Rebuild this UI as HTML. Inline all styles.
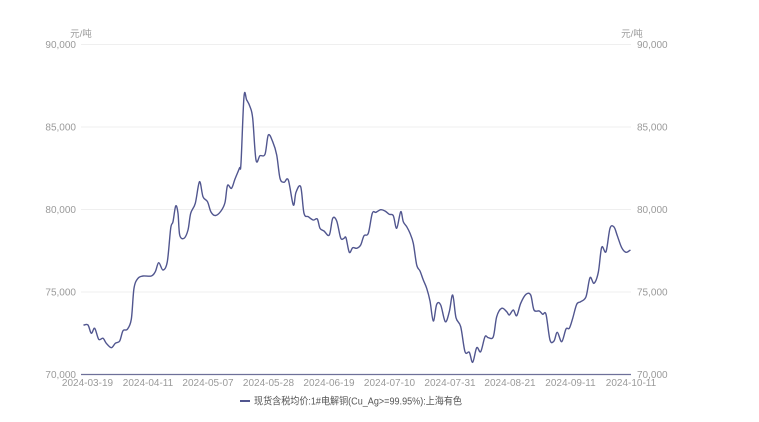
<!DOCTYPE html>
<html><head><meta charset="utf-8"><style>
html,body{margin:0;padding:0;background:#fff;}
svg{display:block;}
text{font-family:"Liberation Sans","Noto Sans CJK SC",sans-serif;}
</style></head><body>
<svg id="chart" width="759" height="422" viewBox="0 0 759 422" xmlns="http://www.w3.org/2000/svg">
<rect width="759" height="422" fill="#fff"/>
<g stroke="#efefef" stroke-width="1">
<line x1="81" y1="44.5" x2="631" y2="44.5"/>
<line x1="81" y1="127" x2="631" y2="127"/>
<line x1="81" y1="209.5" x2="631" y2="209.5"/>
<line x1="81" y1="292" x2="631" y2="292"/>
</g>
<line x1="81" y1="374.5" x2="631" y2="374.5" stroke="#6e7099" stroke-width="1.2"/>
<g font-size="10" fill="#9a9a9a">
<text x="81" y="37" text-anchor="middle" font-size="9.5">元/吨</text>
<text x="632" y="37" text-anchor="middle" font-size="9.5">元/吨</text>
<g text-anchor="end">
<text x="76" y="48">90,000</text>
<text x="76" y="130.5">85,000</text>
<text x="76" y="213">80,000</text>
<text x="76" y="295.5">75,000</text>
<text x="76" y="378">70,000</text>
</g>
<g text-anchor="start">
<text x="637" y="48">90,000</text>
<text x="637" y="130.5">85,000</text>
<text x="637" y="213">80,000</text>
<text x="637" y="295.5">75,000</text>
<text x="637" y="378">70,000</text>
</g>
<g text-anchor="middle">
<text x="87.5" y="386">2024-03-19</text>
<text x="148" y="386">2024-04-11</text>
<text x="208" y="386">2024-05-07</text>
<text x="268.5" y="386">2024-05-28</text>
<text x="329" y="386">2024-06-19</text>
<text x="389.5" y="386">2024-07-10</text>
<text x="450" y="386">2024-07-31</text>
<text x="510" y="386">2024-08-21</text>
<text x="570.5" y="386">2024-09-11</text>
<text x="631" y="386">2024-10-11</text>
</g>
</g>
<polyline id="series" fill="none" stroke="#51568f" stroke-width="1.4" stroke-linejoin="round" stroke-linecap="round" points="84,325 88,325 91.3,333.3 94.7,328.3 98.7,339.3 103,338.3 106.3,343.3 111.3,347.7 115.3,343.3 119.7,341 123,330.7 127.3,329.3 131.3,319.3 134,288.3 138,278.3 143,276 151.3,276 155.3,271.7 158.7,262.7 163,270 167.3,261.7 170.7,228.3 173,221.7 175.7,206 178,213.3 179.7,235 184,238.3 188,230 190.7,213.3 195.3,203.3 199.5,181.7 203,196.7 207.5,201.7 211,212 215.5,215.5 221,211 225,202.5 227.5,185.5 231.5,188.3 235,179 239.5,168 241,163 244,96.7 246.7,100 250,106.7 252.7,118.3 256,160 260,155.7 265,154.3 268.3,135 272.7,141.7 276.7,155 280,178.3 284,182.3 288.3,180 293.3,205 296,192.3 300.7,186.7 304,213.3 308.3,216.7 313.3,220 317.3,219 320,228.3 324,231 329.3,235 332.7,218.3 336.7,221 340.7,238 344,238.3 346,237.7 349.3,252.3 352.7,247.7 356.7,248.3 360.7,245 364,235.7 368.3,233.3 372.3,213.3 376,212.3 380.7,209.7 385,211 389.3,214.3 393.3,215.7 396.7,228.3 400.7,211.7 403.3,221.7 406.7,226.7 410,233.3 413.3,243.3 416.7,265 420,271 423.3,280 426.7,288.3 430,301 433.3,321 436.7,304.3 440.7,305 445.3,321.7 449.3,311.7 452.7,295 456,317.7 460.7,326.7 465,351.7 469.3,352.3 472.7,362.3 476.7,347.7 480.7,351.7 485,336.7 488.3,337.7 493.3,336.7 496.7,316.7 501.7,308.3 506.7,311.7 509.3,315 513.3,310 516.7,315.7 520.7,303.3 526,294.3 530.7,295 534,310 539.3,311 542.7,314.3 546,314.3 550,340 554,341 557.3,332.3 561.7,341.7 566,329 569.3,328.3 572.7,318.3 576.7,304.3 580.7,301.7 586,296.7 590,277.7 594,283.3 598.3,272.3 601.7,247.3 606,251.7 610,228.3 614,227 617.3,235.7 621.7,247.7 626,252.3 630,250.3"/>
<line x1="240" y1="401" x2="250" y2="401" stroke="#51568f" stroke-width="2"/>
<text x="254" y="404.5" font-size="10" fill="#555" textLength="208" lengthAdjust="spacingAndGlyphs">现货含税均价:1#电解铜(Cu_Ag&gt;=99.95%):上海有色</text>
</svg>
<script>
(function(){
  var pl=document.getElementById('series');
  if(!pl)return;
  var raw=pl.getAttribute('points').trim().split(/\s+/).map(function(s){var a=s.split(',');return [parseFloat(a[0]),parseFloat(a[1])];});
  var t=0.5/3, d='M'+raw[0][0]+','+raw[0][1];
  for(var i=0;i<raw.length-1;i++){
    var p0=raw[i-1]||raw[i], p1=raw[i], p2=raw[i+1], p3=raw[i+2]||p2;
    var c1x=p1[0]+(p2[0]-p0[0])*t, c1y=p1[1]+(p2[1]-p0[1])*t;
    var c2x=p2[0]-(p3[0]-p1[0])*t, c2y=p2[1]-(p3[1]-p1[1])*t;
    d+=' C'+c1x.toFixed(2)+','+c1y.toFixed(2)+' '+c2x.toFixed(2)+','+c2y.toFixed(2)+' '+p2[0]+','+p2[1];
  }
  var ns='http://www.w3.org/2000/svg';
  var path=document.createElementNS(ns,'path');
  path.setAttribute('d',d);
  path.setAttribute('fill','none');
  path.setAttribute('stroke','#51568f');
  path.setAttribute('stroke-width','1.4');
  path.setAttribute('stroke-linejoin','round');
  path.setAttribute('stroke-linecap','round');
  pl.parentNode.replaceChild(path,pl);
})();
</script>
</body></html>
